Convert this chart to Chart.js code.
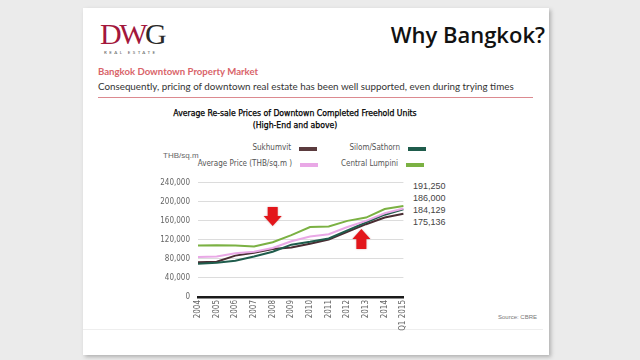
<!DOCTYPE html>
<html>
<head>
<meta charset="utf-8">
<script src="https://cdn.jsdelivr.net/npm/chart.js@4.4.1/dist/chart.umd.min.js"></script>
<style>
  html, body { margin: 0; padding: 0; }
  body { width: 640px; height: 360px; background: #ebebeb; position: relative; overflow: hidden; font-family: Lato, "Open Sans", sans-serif; }
  .slide { position: absolute; left: 83px; top: 8px; width: 466px; height: 347px; background: #fff; box-shadow: 2px 2px 4px rgba(0,0,0,0.25); }
  .abs { position: absolute; white-space: nowrap; }
  .logo { left: 100px; top: 19px; font-family: "Liberation Serif", "DejaVu Serif", serif; font-size: 30px; letter-spacing: -2.5px; color: #a3173c; line-height: 30px; }
  .logo span { color: #2a2a2a; }
  .logo-sub { left: 104px; top: 50px; font-size: 4.5px; letter-spacing: 2.4px; color: #555; }
  .why { right: 95px; top: 19px; font-family: "Open Sans", sans-serif; font-size: 22px; font-weight: 600; color: #111; }
  .sub1 { left: 98px; top: 66px; font-size: 9.6px; color: #d9646a; font-weight: bold; }
  .sub2 { left: 98px; top: 80px; font-size: 9.8px; color: #333; }
  .rule { left: 98px; top: 97px; width: 435px; height: 0; border-top: 1.5px solid #dc8a90; }
  .ctitle { left: 120px; width: 350px; text-align: center; font-family: "Liberation Sans Narrow", "DejaVu Sans Condensed", sans-serif; font-size: 8.6px; color: #000; -webkit-text-stroke: 0.25px #000; }
  .leg { font-family: "Liberation Sans Narrow", "DejaVu Sans Condensed", sans-serif; font-size: 8px; color: #555; text-align: right; }
  .sw { position: absolute; width: 18px; height: 3.5px; }
  .unit { left: 163px; top: 151px; font-family: "Liberation Sans Narrow", sans-serif; font-size: 8px; color: #666; }
  .endlab { left: 413px; font-family: "Liberation Sans Narrow", sans-serif; font-size: 9px; color: #444; }
  .src { left: 498px; top: 314px; font-family: "Liberation Sans Narrow", sans-serif; font-size: 6px; color: #777; }
  .foot { left: 83px; top: 329px; width: 460px; border-top: 1px solid #eee; }
  #wrap { position: absolute; left: 150px; top: 170px; width: 266px; height: 167px; }
</style>
</head>
<body>
<div class="slide"></div>
<div class="abs logo">DW<span>G</span></div>
<div class="abs logo-sub">REAL ESTATE</div>
<div class="abs why">Why Bangkok?</div>
<div class="abs sub1">Bangkok Downtown Property Market</div>
<div class="abs sub2">Consequently, pricing of downtown real estate has been well supported, even during trying times</div>
<div class="abs rule"></div>
<div class="abs ctitle" style="top:108px">Average Re-sale Prices of Downtown Completed Freehold Units</div>
<div class="abs ctitle" style="top:120px">(High-End and above)</div>
<div id="legend"></div>
<div class="abs unit">THB/sq.m</div>
<div id="endlabels"></div>
<div class="abs src">Source: CBRE</div>
<div class="abs foot"></div>
<div id="wrap"><canvas id="chart"></canvas></div>

<script>
// dados do gráfico
const anos = ['2004', '2005', '2006', '2007', '2008', '2009', '2010', '2011', '2012', '2013', '2014', 'Q1 2015'];

const sukhumvit = [73000, 74000, 87000, 93000, 101000, 104000, 112000, 121000, 137000, 153000, 167000, 175136];
const silomSathorn = [70000, 72000, 76000, 85000, 95000, 110000, 116000, 123000, 140000, 157000, 173000, 184129];
const mediaPreco = [84000, 85000, 92000, 95000, 103000, 117000, 127000, 132000, 147000, 160000, 176000, 186000];
const centralLumpini = [108000, 109000, 108000, 106000, 115000, 130000, 147000, 148000, 160000, 167000, 185000, 191250];

const yTicks = [0, 40000, 80000, 120000, 160000, 200000, 240000];
const rotulosFinais = ['191,250', '186,000', '184,129', '175,136'];

// setas vermelhas (índice da categoria, valor inicial, valor da ponta)
const setas = [
    { x: 4, de: 189000, ate: 149000 },
    { x: 8.75, de: 101000, ate: 143000 }
];

// legenda manual (texto à esquerda, amostra à direita)
const legendaItens = [
    { nome: 'Sukhumvit', cor: '#5b3b3e', x: 291, y: 143 },
    { nome: 'Silom/Sathorn', cor: '#1f5c4c', x: 400, y: 143 },
    { nome: 'Average Price (THB/sq.m )', cor: '#e9a8e6', x: 292, y: 159 },
    { nome: 'Central Lumpini', cor: '#7bb143', x: 398, y: 159 }
];

const legenda = document.getElementById('legend');
legendaItens.forEach(item => {
    const t = document.createElement('div');
    t.className = 'abs leg';
    t.style.right = (640 - item.x) + 'px';
    t.style.top = item.y + 'px';
    t.textContent = item.nome;
    legenda.appendChild(t);
    const s = document.createElement('div');
    s.className = 'sw';
    s.style.left = (item.x + 8) + 'px';
    s.style.top = (item.y + 4) + 'px';
    s.style.background = item.cor;
    legenda.appendChild(s);
});

const finais = document.getElementById('endlabels');
rotulosFinais.forEach((r, i) => {
    const d = document.createElement('div');
    d.className = 'abs endlab';
    d.style.top = (181 + i * 12) + 'px';
    d.textContent = r;
    finais.appendChild(d);
});

// plugin das setas
const pluginSetas = {
    id: 'setas',
    afterDatasetsDraw(chart) {
        const { ctx, scales } = chart;
        setas.forEach(s => {
            const cx = scales.x.getPixelForValue(s.x);
            const y0 = scales.y.getPixelForValue(s.de);
            const y1 = scales.y.getPixelForValue(s.ate);
            const dir = y1 > y0 ? 1 : -1;
            const cab = 10 * dir;
            ctx.save();
            ctx.fillStyle = '#e3161b';
            ctx.shadowColor = 'rgba(120,0,0,0.35)';
            ctx.shadowBlur = 2;
            ctx.beginPath();
            ctx.moveTo(cx - 5, y0);
            ctx.lineTo(cx + 5, y0);
            ctx.lineTo(cx + 5, y1 - cab);
            ctx.lineTo(cx + 9, y1 - cab);
            ctx.lineTo(cx, y1);
            ctx.lineTo(cx - 9, y1 - cab);
            ctx.lineTo(cx - 5, y1 - cab);
            ctx.closePath();
            ctx.fill();
            ctx.restore();
        });
    }
};

const fonteEixo = { family: '"Liberation Sans Narrow", "DejaVu Sans Condensed", sans-serif', size: 8 };

function serie(label, data, cor) {
    return {
        label,
        data,
        borderColor: cor,
        backgroundColor: cor,
        borderWidth: 2,
        pointRadius: 0,
        tension: 0,
        fill: false
    };
}

new Chart(document.getElementById('chart'), {
    type: 'line',
    data: {
        labels: anos,
        datasets: [
            serie('Average Price (THB/sq.m )', mediaPreco, '#e9a8e6'),
            serie('Silom/Sathorn', silomSathorn, '#1f5c4c'),
            serie('Sukhumvit', sukhumvit, '#4a2d33'),
            serie('Central Lumpini', centralLumpini, '#7bb143')
        ]
    },
    options: {
        responsive: true,
        maintainAspectRatio: false,
        animation: false,
        layout: { padding: 0 },
        plugins: {
            legend: { display: false },
            tooltip: { enabled: false }
        },
        scales: {
            x: {
                offset: false,
                grid: { display: false, drawTicks: false },
                border: { display: true, color: '#1a1a1a', width: 2.5 },
                ticks: {
                    font: fonteEixo,
                    color: '#666',
                    minRotation: 90,
                    maxRotation: 90,
                    padding: 3,
                    autoSkip: false
                },
                afterFit(scale) { scale.height = 40; }
            },
            y: {
                min: 0,
                max: 240000,
                afterBuildTicks(scale) { scale.ticks = yTicks.map(v => ({ value: v })); },
                grid: {
                    color: ctx => ctx.tick && ctx.tick.value === 0 ? 'rgba(0,0,0,0)' : '#dcdcdc',
                    drawTicks: false
                },
                border: { display: false },
                ticks: {
                    font: fonteEixo,
                    color: '#666',
                    padding: 8,
                    callback: v => v.toLocaleString('en-US')
                },
                afterFit(scale) { scale.width = 48; }
            }
        }
    },
    plugins: [pluginSetas]
});
</script>
</body>
</html>
